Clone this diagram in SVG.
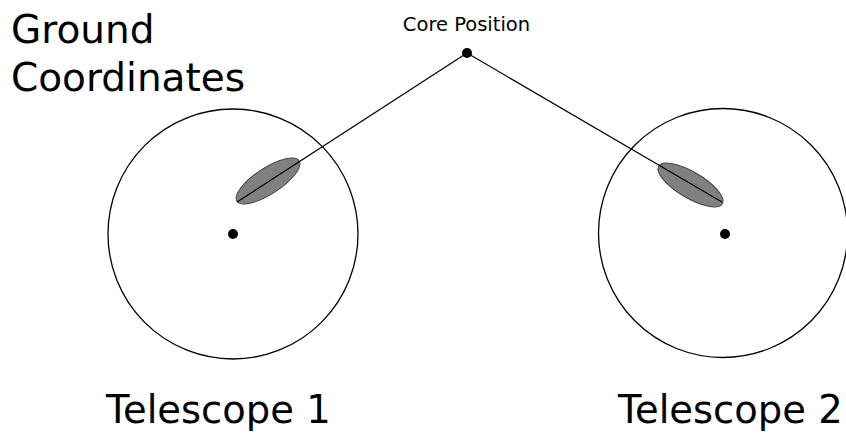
<svg xmlns="http://www.w3.org/2000/svg" width="846" height="437" viewBox="0 0 846 437">
<style>
text{font-family:"DejaVu Sans",Verdana,sans-serif;fill:#000}
.big{font-size:38.5px}
.ring{fill:none;stroke:#000;stroke-width:1.3}
.ell{fill:#808080;stroke:#444;stroke-width:1}
.dot{fill:#000}
.conn{stroke:#000;stroke-width:1.2;fill:none}
</style>
<rect width="846" height="437" fill="#fff"/>
<g id="title">
<text class="big" x="11" y="43" style="font-size:39px">Ground</text>
<text class="big" x="11" y="91" style="font-size:39px">Coordinates</text>
</g>
<g id="telescope1">
<circle class="ring" cx="233" cy="234" r="125"/>
<circle class="dot" cx="233" cy="234" r="5"/>
<ellipse class="ell" cx="268" cy="181" rx="37" ry="13" transform="rotate(-33 268 181)"/>
<text class="big" x="106" y="423">Telescope 1</text>
</g>
<g id="telescope2">
<circle class="ring" cx="723" cy="233" r="124.5"/>
<circle class="dot" cx="725" cy="234" r="5"/>
<ellipse class="ell" cx="690.5" cy="185" rx="37" ry="13" transform="rotate(30.5 690.5 185)"/>
<text class="big" x="618" y="423">Telescope 2</text>
</g>
<g id="core">
<circle class="dot" cx="467" cy="53" r="5"/>
<text x="466.5" y="31" text-anchor="middle" style="font-size:19.5px">Core Position</text>
</g>
<g id="connectors">
<line class="conn" x1="467" y1="53" x2="237" y2="202"/>
<line class="conn" x1="467" y1="53" x2="722" y2="202"/>
</g>
</svg>
